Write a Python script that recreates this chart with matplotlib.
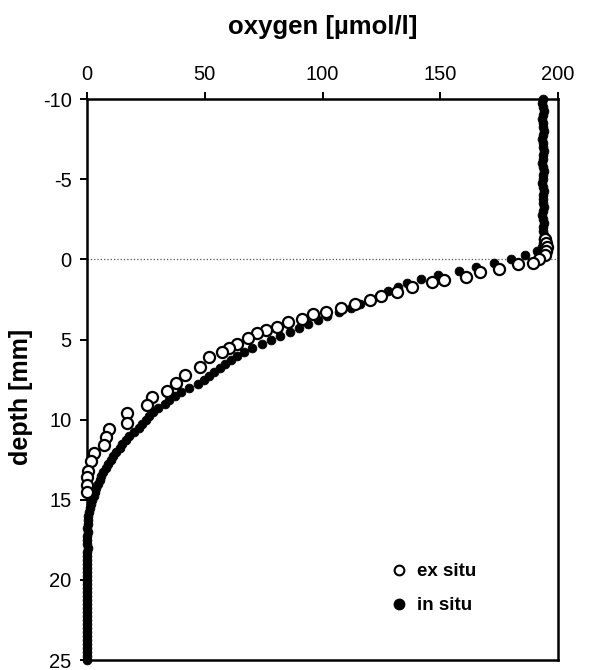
import matplotlib
matplotlib.use("Agg")
import matplotlib.pyplot as plt
from matplotlib.lines import Line2D

plt.rcParams['font.family'] = ['Liberation Sans', 'DejaVu Sans']
plt.rcParams['axes.unicode_minus'] = False

# in situ profile: depth [mm] and oxygen [umol/l]
in_situ_depth = [
    -10.0, -9.75, -9.5, -9.25, -9.0, -8.75, -8.5, -8.25, -8.0, -7.75,
    -7.5, -7.25, -7.0, -6.75, -6.5, -6.25, -6.0, -5.75, -5.5, -5.25,
    -5.0, -4.75, -4.5, -4.25, -4.0, -3.75, -3.5, -3.25, -3.0, -2.75,
    -2.5, -2.25, -2.0, -1.75, -1.5, -1.25, -1.0, -0.75, -0.5, -0.25,
    0.0, 0.25, 0.5, 0.75, 1.0, 1.25, 1.5, 1.75, 2.0, 2.25,
    2.5, 2.75, 3.0, 3.25, 3.5, 3.75, 4.0, 4.25, 4.5, 4.75,
    5.0, 5.25, 5.5, 5.75, 6.0, 6.25, 6.5, 6.75, 7.0, 7.25,
    7.5, 7.75, 8.0, 8.25, 8.5, 8.75, 9.0, 9.25, 9.5, 9.75,
    10.0, 10.25, 10.5, 10.75, 11.0, 11.25, 11.5, 11.75, 12.0, 12.25,
    12.5, 12.75, 13.0, 13.25, 13.5, 13.75, 14.0, 14.25, 14.5, 14.75,
    15.0, 15.25, 15.5, 15.75, 16.0, 16.25, 16.5, 16.75, 17.0, 17.25,
    17.5, 17.75, 18.0, 18.25, 18.5, 18.75, 19.0, 19.25, 19.5, 19.75,
    20.0, 20.25, 20.5, 20.75, 21.0, 21.25, 21.5, 21.75, 22.0, 22.25,
    22.5, 22.75, 23.0, 23.25, 23.5, 23.75, 24.0, 24.25, 24.5, 24.75,
    25.0,
]
in_situ_o2 = [
    193.5, 193.0, 193.5, 194.0, 193.5, 193.0, 193.5, 193.5, 194.0, 193.5,
    193.0, 193.5, 193.5, 194.0, 193.5, 193.5, 193.0, 193.5, 194.0, 193.5,
    193.5, 193.0, 193.5, 194.0, 193.5, 193.5, 193.5, 194.0, 193.5, 193.0,
    193.5, 194.0, 193.5, 193.5, 194.0, 193.5, 193.5, 193.0, 191.0, 186.0,
    180.0, 173.0, 165.0, 158.0, 149.0, 142.0, 136.0, 132.0, 128.0, 124.0,
    120.0, 116.0, 112.0, 107.0, 102.0, 98.0, 94.0, 90.0, 86.0, 82.0,
    78.0, 74.5, 70.0, 66.5, 63.5, 61.0, 58.5, 56.5, 54.0, 52.0,
    49.5, 47.0, 43.5, 40.0, 37.5, 35.0, 33.0, 30.0, 28.0, 26.5,
    25.0, 23.5, 22.0, 20.0, 18.0, 16.5, 15.0, 14.0, 12.5, 11.0,
    10.0, 9.0, 8.0, 7.0, 6.0, 5.5, 4.7, 4.0, 3.4, 2.8,
    2.2, 1.6, 1.2, 0.8, 0.5, 0.3, 0.3, 0.2, 0.3, 0.2,
    0.1, 0.2, 0.3, 0.1, 0.2, 0.0, 0.2, 0.1, 0.2, 0.0,
    0.1, 0.2, 0.0, 0.1, 0.2, 0.1, 0.0, 0.2, 0.1, 0.0,
    0.1, 0.0, 0.2, 0.1, 0.0, 0.1, 0.0, 0.1, 0.0, 0.1,
    0.0,
]

# ex situ profile
ex_situ_depth = [
    -1.25, -1.0, -0.75, -0.5, -0.25, 0.0, 0.2, 0.3, 0.6, 0.8,
    1.1, 1.3, 1.4, 1.75, 2.05, 2.25, 2.5, 2.75, 3.0, 3.25,
    3.4, 3.7, 3.9, 4.2, 4.4, 4.6, 4.9, 5.25, 5.5, 5.8,
    6.1, 6.7, 7.2, 7.7, 8.2, 8.6, 9.1, 9.6, 10.2, 10.6,
    11.1, 11.6, 12.1, 12.6, 13.2, 13.6, 14.1, 14.5,
]
ex_situ_o2 = [
    194.5, 195.0, 195.5, 195.0, 194.5, 192.0, 189.5, 183.0, 175.0, 167.0,
    161.0, 151.5, 146.5, 138.0, 131.5, 125.0, 120.0, 114.0, 108.0, 101.5,
    96.0, 91.5, 85.5, 80.5, 76.0, 72.0, 68.5, 63.5, 60.5, 57.5,
    52.0, 48.0, 41.5, 38.0, 34.0, 27.5, 25.5, 17.0, 17.0, 9.3,
    8.0, 7.3, 3.0, 1.8, 0.4, 0.0, 0.0, 0.0,
]

x_ticks = [0, 50, 100, 150, 200]
y_ticks = [-10, -5, 0, 5, 10, 15, 20, 25]

fig = plt.figure(figsize=(5.91, 6.70), dpi=100)
ax = fig.add_axes([0.1472, 0.0149, 0.797, 0.837])

ax.axhline(0, color='#555555', lw=0.9, ls=':', zorder=1)

ax.plot(in_situ_o2, in_situ_depth, 'o', ms=6.3, mfc='black', mec='black',
        mew=0.6, clip_on=False, zorder=3)
ax.plot(ex_situ_o2, ex_situ_depth, 'o', ms=8, mfc='white', mec='black',
        mew=1.6, clip_on=False, zorder=4)

ax.set_xlim(0, 200)
ax.set_ylim(25, -10)
ax.set_xticks(x_ticks)
ax.set_yticks(y_ticks)
ax.xaxis.tick_top()
ax.xaxis.set_label_position('top')
ax.tick_params(direction='out', length=5, width=1.4, labelsize=14.5, pad=6)

for s in ax.spines.values():
    s.set_linewidth(1.8)

ax.set_xlabel('oxygen [µmol/l]', fontsize=18.5, fontweight='bold', labelpad=22)
ax.set_ylabel('depth [mm]', fontsize=18, fontweight='bold')
ax.yaxis.set_label_coords(-0.115, 0.47)

handles = [
    Line2D([], [], ls='none', marker='o', ms=7, mfc='white', mec='black', mew=1.5),
    Line2D([], [], ls='none', marker='o', ms=7.5, mfc='black', mec='black'),
]
ax.legend(handles, ['ex situ', 'in situ'], loc='center left',
          bbox_to_anchor=(0.627, 0.127), frameon=False, handlelength=0.8,
          handletextpad=0.55, labelspacing=0.9, borderpad=0,
          prop={'weight': 'bold', 'size': 13.5})

fig.savefig('out.png', dpi=100)
